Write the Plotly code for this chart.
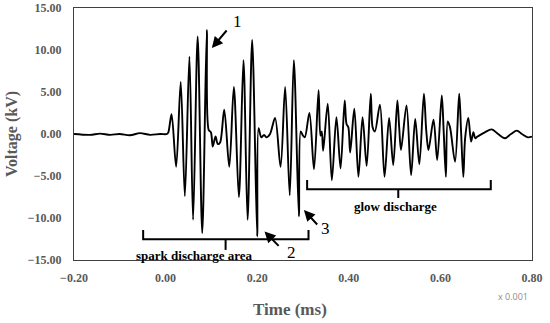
import plotly.graph_objects as go

# Waveform samples (time axis in ms x0.001 scale as labelled, voltage in kV)
time_ms = [
    -0.200, -0.165, -0.143, -0.121, -0.100, -0.078, -0.056, -0.034, -0.012, 0.003,
    0.006, 0.013, 0.023, 0.033, 0.042, 0.052, 0.060, 0.070, 0.080, 0.090,
    0.094, 0.099, 0.103, 0.109, 0.114, 0.119, 0.128, 0.139, 0.149, 0.160,
    0.170, 0.179, 0.189, 0.200, 0.203, 0.209, 0.215, 0.220, 0.228, 0.239,
    0.251, 0.261, 0.271, 0.280, 0.291, 0.295, 0.300, 0.304, 0.314, 0.324,
    0.334, 0.338, 0.341, 0.344, 0.354, 0.363, 0.373, 0.382, 0.391, 0.395,
    0.399, 0.403, 0.412, 0.421, 0.430, 0.439, 0.448, 0.452, 0.457, 0.468,
    0.478, 0.488, 0.497, 0.506, 0.510, 0.514, 0.526, 0.536, 0.545, 0.554,
    0.564, 0.569, 0.574, 0.585, 0.593, 0.603, 0.607, 0.612, 0.616, 0.621,
    0.632, 0.641, 0.645, 0.650, 0.654, 0.661, 0.667, 0.672, 0.676, 0.681,
    0.687, 0.697, 0.712, 0.726, 0.741, 0.754, 0.767, 0.778, 0.791, 0.800,
]
voltage_kv = [
    0.0, -0.1, 0.05, -0.1, 0.0, -0.15, 0.1, -0.1, 0.0, 0.0,
    0.2, 2.35, -3.9, 6.2, -7.4, 9.2, -10.2, 11.6, -11.8, 12.4,
    0.5, 0.2, -1.5, -0.3, -1.2, -1.0, 2.9, -3.9, 5.6, -7.5,
    8.8, -10.2, 11.2, -12.2, 0.7, -0.4, -0.1, -0.4, 0.0, 1.9,
    -3.9, 5.6, -7.3, 8.8, -9.8, 0.3, -0.2, -0.4, 2.5, -4.2,
    5.2, -0.2, 0.3, -2.0, 3.6, -5.5, 2.0, -4.1, 4.0, 1.2,
    0.8, -2.2, 3.0, -5.1, 2.0, -3.8, 4.8, 0.8, 0.3, 3.5,
    -5.1, 1.9, -3.7, 4.0, 0.8, -1.9, 3.4, -4.9, 1.8, -3.6,
    4.8, 0.5, -1.9, 1.7, -3.1, 4.6, 0.5, -5.1, 1.5, 0.8,
    -3.3, 4.8, 0.5, -5.1, -0.5, 1.9, -0.9, 0.2, -0.5, -0.3,
    -0.1, 0.2, 0.55, 0.0, -0.5, 0.0, 0.4, 0.0, -0.4, -0.3,
]

x_ticks = [-0.2, 0.0, 0.2, 0.4, 0.6, 0.8]
y_ticks = [-15, -10, -5, 0, 5, 10, 15]

SERIF = "Liberation Serif, Times New Roman, serif"
GRAY = "#595959"

fig = go.Figure()
fig.add_trace(go.Scatter(
    x=time_ms, y=voltage_kv, mode="lines",
    line=dict(color="black", width=1.9, shape="spline", smoothing=0.9),
    showlegend=False, hoverinfo="skip",
))


def bracket(x0, x1, xc, ytop, yline, ytick):
    fig.add_shape(type="path",
                  path=f"M {x0},{ytop} L {x0},{yline} L {x1},{yline} L {x1},{ytop}",
                  line=dict(color="black", width=2), xref="x", yref="y")
    fig.add_shape(type="line", x0=xc, x1=xc, y0=yline, y1=ytick,
                  line=dict(color="black", width=2), xref="x", yref="y")


bracket(-0.049, 0.312, 0.131, -11.43, -12.54, -13.8)
bracket(0.309, 0.710, 0.508, -5.48, -6.58, -7.62)

fig.add_annotation(x=0.0635, y=-14.45, text="<b>spark discharge area</b>", showarrow=False,
                   font=dict(family=SERIF, size=13, color="black"))
fig.add_annotation(x=0.503, y=-8.6, text="<b>glow discharge</b>", showarrow=False,
                   font=dict(family=SERIF, size=13, color="black"))

arrows = [
    # head x, head y, tail x, tail y
    (0.101, 10.24, 0.136, 12.5),
    (0.216, -11.6, 0.250, -13.5),
    (0.302, -9.05, 0.334, -10.95),
]
for hx, hy, tx, ty in arrows:
    fig.add_annotation(x=hx, y=hy, ax=tx, ay=ty, xref="x", yref="y", axref="x", ayref="y",
                       text="", showarrow=True, arrowhead=2, arrowsize=1.1, arrowwidth=2,
                       arrowcolor="black")

labels = [("1", 0.158, 13.36), ("2", 0.275, -14.1), ("3", 0.350, -11.3)]
for t, lx, ly in labels:
    fig.add_annotation(x=lx, y=ly, text=t, showarrow=False,
                       font=dict(family=SERIF, size=17, color="black"))

fig.add_annotation(x=(513 - 74) / 458, y=(260 - 296) / 252, xref="paper", yref="paper",
                   xanchor="center", yanchor="middle",
                   text="x 0.001", showarrow=False,
                   font=dict(family="Open Sans, sans-serif", size=9, color="#8c8c8c"))

# x-axis title (sits left of the plot centre in the original)
fig.add_annotation(x=(290 - 74) / 458, y=(260 - 309) / 252, xref="paper", yref="paper",
                   xanchor="center", yanchor="middle",
                   text="<b>Time (ms)</b>", showarrow=False,
                   font=dict(family=SERIF, size=17, color=GRAY))

fig.update_layout(
    width=550, height=323,
    margin=dict(l=74, r=18, t=8, b=63, autoexpand=False),
    plot_bgcolor="white", paper_bgcolor="white",
    showlegend=False,
)

fig.update_xaxes(
    range=[-0.2, 0.8], tickvals=x_ticks, tickformat=".2f",
    showgrid=False, zeroline=False, showline=True, mirror=True,
    linecolor="#404040", linewidth=1, ticks="", automargin=False,
    tickfont=dict(family=SERIF, size=12, color=GRAY, weight="bold"), ticklabelstandoff=7,
)
fig.update_yaxes(
    range=[-15, 15], tickvals=y_ticks, tickformat=".2f",
    showgrid=False, zeroline=False, showline=True, mirror=True,
    linecolor="#404040", linewidth=1, ticks="", automargin=False,
    tickfont=dict(family=SERIF, size=12, color=GRAY, weight="bold"), ticklabelstandoff=9,
    title=dict(text="<b>Voltage (kV)</b>", font=dict(family=SERIF, size=16, color=GRAY), standoff=6),
)

fig.write_html("out.html", post_script="document.body.style.margin='0';",
               config={"displayModeBar": False})
